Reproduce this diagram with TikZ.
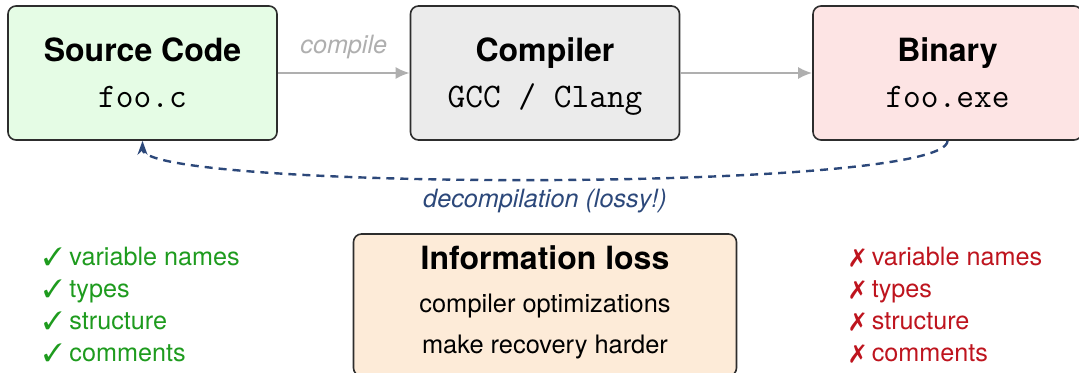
\documentclass[tikz,border=0pt]{standalone}
\usepackage{fontspec}
\setmainfont{TeX Gyre Heros}
\usepackage{pifont}
\usetikzlibrary{calc,arrows.meta}

\definecolor{boxline}{RGB}{45,45,45}
\definecolor{srcfill}{RGB}{229,252,229}
\definecolor{cmpfill}{RGB}{235,235,235}
\definecolor{binfill}{RGB}{253,228,228}
\definecolor{lossfill}{RGB}{253,235,216}
\definecolor{flowgray}{RGB}{175,175,175}
\definecolor{lossblue}{RGB}{44,72,122}
\definecolor{keptgreen}{RGB}{30,155,30}
\definecolor{gonered}{RGB}{190,20,30}

\begin{document}
\begin{tikzpicture}[
 x=0.5pt, y=0.5pt,
 >={Latex[length=7pt,width=6pt]},
 align=center,
 box/.style={draw=boxline,line width=0.8pt,rectangle,rounded corners=4pt,minimum width=134.5pt,minimum height=67pt},
 lossbox/.style={box,fill=lossfill,minimum width=191.5pt,minimum height=71pt},
 title/.style={font=\fontsize{16}{19}\selectfont\bfseries,anchor=base,inner sep=0pt},
 file/.style={font=\fontsize{17.2}{20}\selectfont\ttfamily,anchor=base,inner sep=0pt},
 body/.style={font=\fontsize{12.7}{16}\selectfont,anchor=base,inner sep=0pt},
 edgelab/.style={font=\fontsize{12.6}{15}\selectfont\itshape},
 flow/.style={draw=flowgray,line width=1.1pt,->},
 lossy/.style={draw=lossblue,line width=1.2pt,dash pattern=on 4pt off 3pt,-{Stealth[length=7pt,width=5pt]}},
 itemlist/.style={font=\fontsize{12.6}{16}\selectfont,align=left,anchor=north west,inner sep=0pt}
]
\useasboundingbox (0,0) rectangle (1079,-373);

% the three stages
\node (src) [box,fill=srcfill] at (142.5,-73) {};
\node (cmp) [box,fill=cmpfill] at (545,-73) {};
\node (bin) [box,fill=binfill] at (947.5,-73) {};
\node (src-title) [title] at (142.5,-62) {Source Code};
\node (src-file) [file] at (142.5,-108) {foo.c};
\node (cmp-title) [title] at (545,-62) {Compiler};
\node (cmp-file) [file] at (545,-108) {GCC / Clang};
\node (bin-title) [title] at (947.5,-62) {Binary};
\node (bin-file) [file] at (947.5,-108) {foo.exe};

\draw[flow] (src) -- node [above=3pt,edgelab,text=flowgray] {compile} (cmp);
\draw[flow] (cmp) -- (bin);
\draw[lossy] (bin.south) .. controls +(0,-52) and +(0,-50) .. node [pos=0.5,below=1pt,edgelab,text=lossblue] {decompilation (lossy!)} (src.south);

% what is kept / lost
\node (kept) [itemlist,text=keptgreen] at (43,-247) {\ding{51} variable names\\\ding{51} types\\\ding{51} structure\\\ding{51} comments};
\node (lost) [itemlist,text=gonered] at (850,-247) {\ding{55} variable names\\\ding{55} types\\\ding{55} structure\\\ding{55} comments};

\node (loss) [lossbox] at (545,-305) {};
\node (loss-title) [title] at (545,-270) {Information loss};
\node (loss-line1) [body] at (545,-312) {compiler optimizations};
\node (loss-line2) [body] at (545,-353) {make recovery harder};
\end{tikzpicture}
\end{document}
